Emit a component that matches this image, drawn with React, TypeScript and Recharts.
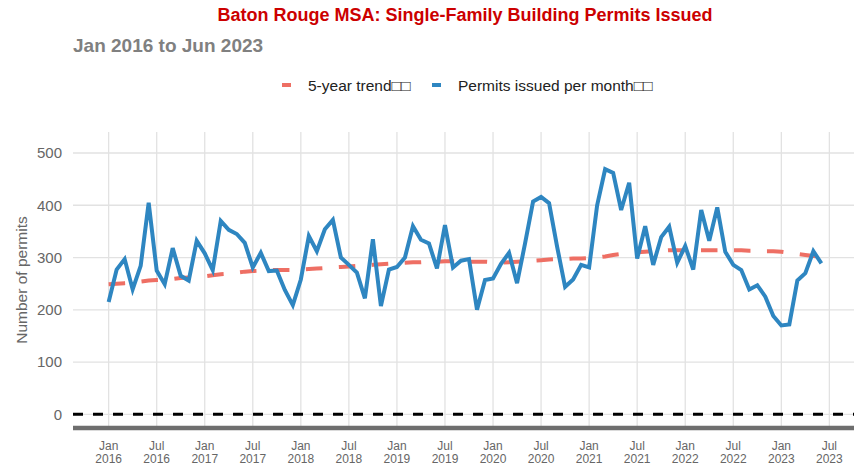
import { LineChart, Line, XAxis, YAxis, ReferenceLine } from 'recharts';

// months counted from Jan 2016 (0) to Jun 2023 (89)
const PERMITS = [
    215, 277, 297, 239, 284, 405, 275, 249, 318, 265, 256, 332,
    308, 276, 370, 353, 345, 328, 281, 309, 274, 275, 238, 209,
    258, 341, 312, 354, 372, 300, 286, 271, 222, 335, 207, 277,
    282, 300, 360, 334, 327, 279, 362, 281, 294, 297, 200, 257,
    260, 288, 309, 251, 327, 407, 416, 404, 321, 244, 258, 286,
    281, 400, 469, 462, 391, 443, 298, 360, 286, 339, 359, 290,
    322, 277, 391, 332, 396, 311, 286, 276, 239, 247, 225, 188,
    170, 172, 256, 270, 312, 289,
];

const TREND = [
    249, 250, 251, 252, 254, 256, 257, 258, 259, 261, 262, 263,
    264, 266, 268, 269, 271, 273, 274, 275, 276, 276, 276, 276,
    277, 278, 279, 280, 281, 282, 283, 284, 285, 286, 287, 288,
    289, 290, 291, 291, 292, 292, 293, 293, 293, 292, 292, 292,
    291, 290, 291, 292, 293, 294, 295, 296, 297, 297, 298, 298,
    299, 300, 302, 305, 307, 309, 310, 311, 312, 313, 314, 314,
    314, 314, 314, 314, 314, 314, 314, 314, 313, 313, 312, 312,
    311, 309, 307, 305, 303, 301,
];

const X_TICKS = [0, 6, 12, 18, 24, 30, 36, 42, 48, 54, 60, 66, 72, 78, 84, 90];
const X_TICK_MONTHS = ['Jan', 'Jul', 'Jan', 'Jul', 'Jan', 'Jul', 'Jan', 'Jul', 'Jan', 'Jul', 'Jan', 'Jul', 'Jan', 'Jul', 'Jan', 'Jul'];
const X_TICK_YEARS = ['2016', '2016', '2017', '2017', '2018', '2018', '2019', '2019', '2020', '2020', '2021', '2021', '2022', '2022', '2023', '2023'];
const Y_TICKS = [0, 100, 200, 300, 400, 500];

const COLORS = {
    permits: '#2E86C1',
    trend: '#EE6F64',
    grid: '#e2e2e2',
    axis: '#6e6e6e',
    tick: '#666666',
    title: '#CC0000',
    subtitle: '#808080',
};

const FONT = '"Liberation Sans", Arial, sans-serif';

const data = PERMITS.map((v, i) => ({ m: i, permits: v, trend: TREND[i] }));

const XTick = (props: any) => {
    const { x, y, payload } = props;
    const idx = X_TICKS.indexOf(payload.value);
    if (idx < 0) return null;
    return (
        <g>
            <text x={x} y={y + 21.5} textAnchor="middle" fill={COLORS.tick} fontSize={12} fontFamily={FONT}>
                {X_TICK_MONTHS[idx]}
            </text>
            <text x={x} y={y + 34.5} textAnchor="middle" fill={COLORS.tick} fontSize={12} fontFamily={FONT}>
                {X_TICK_YEARS[idx]}
            </text>
        </g>
    );
};

export default function App() {
    return (
        <div style={{ position: 'absolute', left: 0, top: 0, width: 854, height: 468, overflow: 'hidden', background: '#fff' }}>
            <LineChart width={857} height={468} data={data} margin={{ top: 132, right: 0, bottom: 0, left: 13 }}>
                <XAxis
                    dataKey="m"
                    type="number"
                    domain={[-4.45, 93.45]}
                    ticks={X_TICKS}
                    allowDataOverflow
                    height={40}
                    tickSize={0}
                    tickMargin={0}
                    axisLine={{ stroke: COLORS.axis, strokeWidth: 4.5 }}
                    tickLine={false}
                    tick={<XTick />}
                    interval={0}
                />
                <YAxis
                    type="number"
                    domain={[-26.2, 540.2]}
                    ticks={Y_TICKS}
                    allowDataOverflow
                    width={60}
                    tickSize={0}
                    tickMargin={11}
                    axisLine={false}
                    tickLine={false}
                    tick={{ fill: COLORS.tick, fontSize: 15, fontFamily: FONT }}
                />
                {/* grid drawn as reference lines so no border lines appear */}
                {X_TICKS.map((t) => (
                    <ReferenceLine key={`gx-${t}`} x={t} stroke={COLORS.grid} strokeWidth={1.3} />
                ))}
                {Y_TICKS.map((t) => (
                    <ReferenceLine key={`gy-${t}`} y={t} stroke={COLORS.grid} strokeWidth={1.3} />
                ))}
                <ReferenceLine y={0} stroke="#000" strokeWidth={3} strokeDasharray="10 10" />
                <Line
                    dataKey="trend"
                    type="linear"
                    stroke={COLORS.trend}
                    strokeWidth={4}
                    strokeDasharray="16.5 16.5"
                    dot={false}
                    isAnimationActive={false}
                />
                <Line
                    dataKey="permits"
                    type="linear"
                    stroke={COLORS.permits}
                    strokeWidth={4}
                    dot={false}
                    isAnimationActive={false}
                />
            </LineChart>
            <svg width={854} height={468} style={{ position: 'absolute', left: 0, top: 0, pointerEvents: 'none' }}>
                <text x={465} y={21} textAnchor="middle" fill={COLORS.title} fontSize={18} fontWeight="bold" fontFamily={FONT}>
                    Baton Rouge MSA: Single-Family Building Permits Issued
                </text>
                <text x={73} y={52} fill={COLORS.subtitle} fontSize={19} fontWeight="bold" fontFamily={FONT}>
                    Jan 2016 to Jun 2023
                </text>
                <line x1={282} y1={85} x2={291} y2={85} stroke={COLORS.trend} strokeWidth={4} />
                <text x={308} y={90.5} fill="#222" fontSize={15.5} fontFamily={FONT}>
                    5-year trend□□
                </text>
                <line x1={432} y1={85} x2={441} y2={85} stroke={COLORS.permits} strokeWidth={4} />
                <text x={458} y={90.5} fill="#222" fontSize={15.5} fontFamily={FONT}>
                    Permits issued per month□□
                </text>
                <text
                    x={27}
                    y={280}
                    transform="rotate(-90, 27, 280)"
                    textAnchor="middle"
                    fill={COLORS.tick}
                    fontSize={15.5}
                    fontFamily={FONT}
                >
                    Number of permits
                </text>
            </svg>
        </div>
    );
}
